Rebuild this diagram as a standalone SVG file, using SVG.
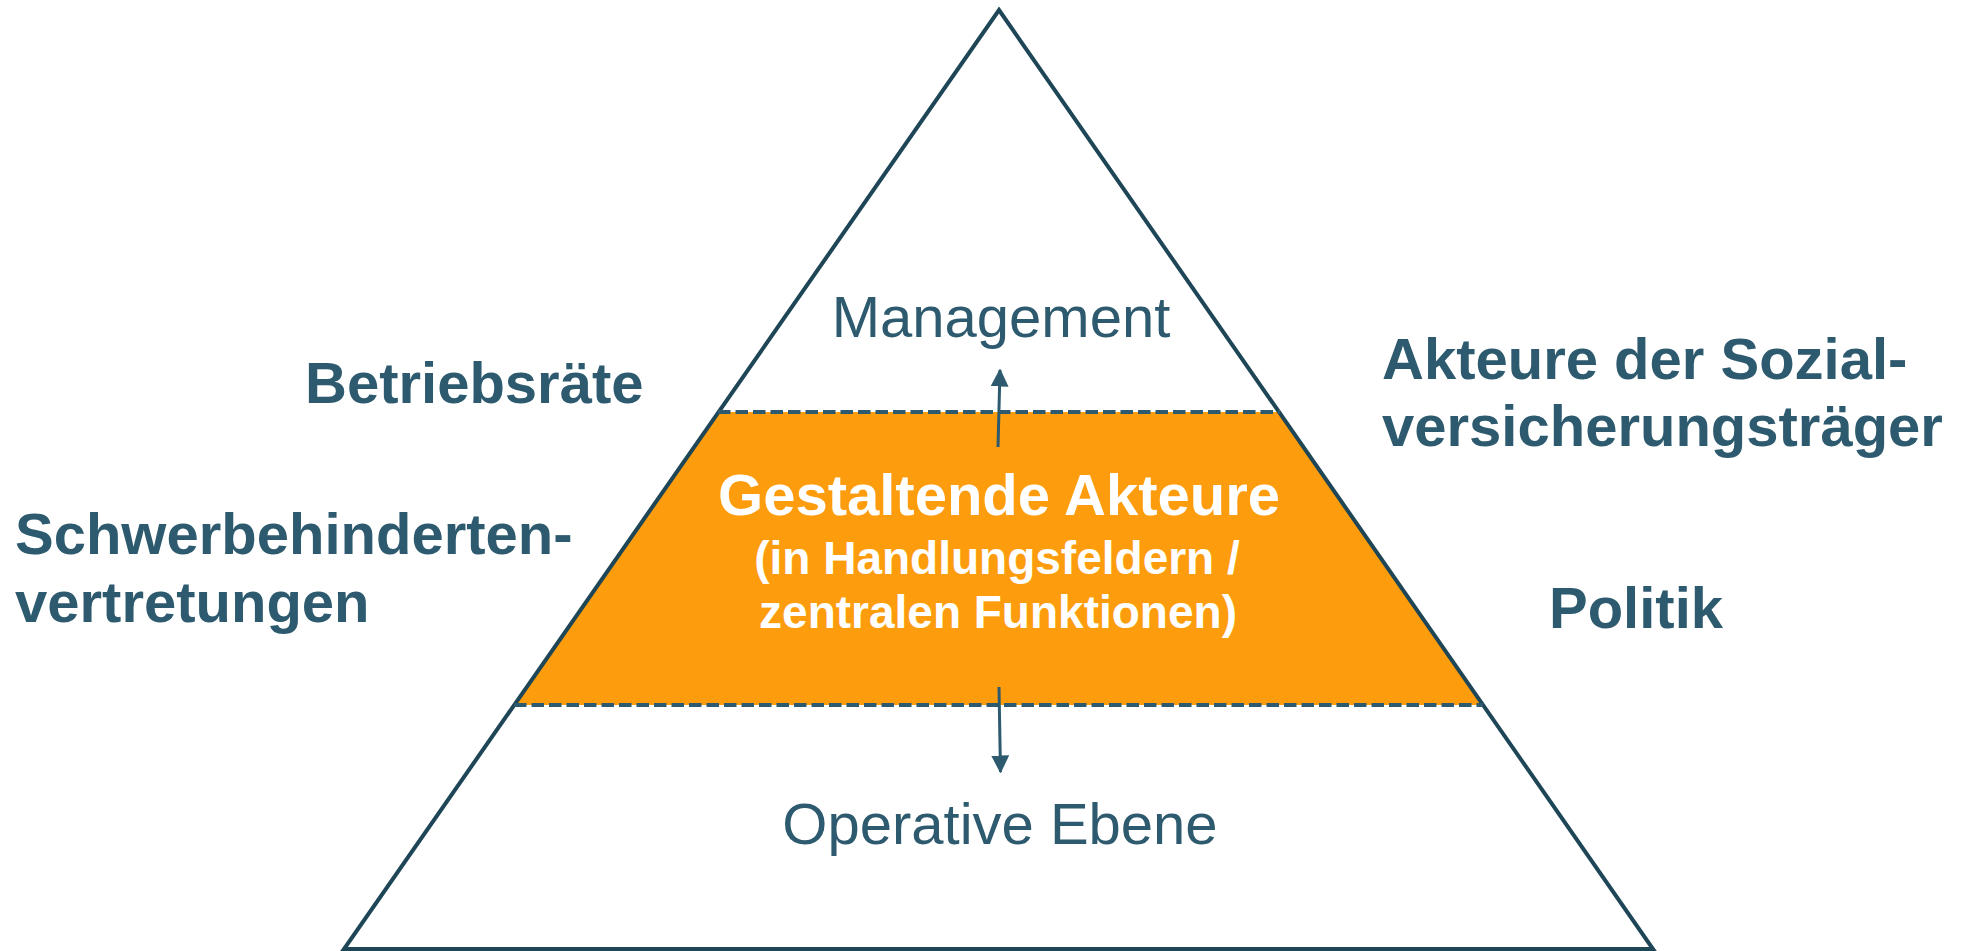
<svg xmlns="http://www.w3.org/2000/svg" width="1970" height="951" viewBox="0 0 1970 951">
  <style>
    .lbl { font-family: "Liberation Sans", Arial, sans-serif; font-weight: bold; font-size: 58px; fill: #2D5A6E; }
    .lvl { font-family: "Liberation Sans", Arial, sans-serif; font-size: 58px; fill: #2D5A6E; text-anchor: middle; }
    .mid { font-family: "Liberation Sans", Arial, sans-serif; font-weight: bold; fill: #FFFFFF; text-anchor: middle; }
    .dash { stroke: #2D5A6E; stroke-width: 4; stroke-dasharray: 12.5 5; fill: none; }
    .arr { stroke: #2D5A6E; stroke-width: 3; fill: none; marker-end: url(#ah); }
  </style>
  <defs>
    <marker id="ah" markerWidth="6" markerHeight="6" refX="5.5" refY="3" orient="auto" markerUnits="strokeWidth">
      <path d="M0,0 L6,3 L0,6 Z" fill="#2D5A6E"/>
    </marker>
  </defs>
  <rect width="1970" height="951" fill="#FFFFFF"/>
  <g id="pyramid">
    <polygon points="718,412 1280,412 1483,705 514,705" fill="#FD9D0E"/>
    <polygon points="999,10 1653,949 344,949" fill="none" stroke="#1E4657" stroke-width="4" stroke-linejoin="miter"/>
    <line class="dash" x1="718" y1="412" x2="1280" y2="412"/>
    <line class="dash" x1="514" y1="705" x2="1483" y2="705"/>
  </g>
  <g id="connectors">
    <line class="arr" x1="998" y1="447" x2="1000" y2="370"/>
    <line class="arr" x1="999" y1="687" x2="1000.5" y2="772"/>
  </g>
  <g id="management"><text class="lvl" x="1001" y="337">Management</text></g>
  <g id="gestaltende">
    <text class="mid" x="999" y="515" font-size="58">Gestaltende Akteure</text>
    <text class="mid" x="997" y="574" font-size="46">(in Handlungsfeldern /</text>
    <text class="mid" x="998" y="628" font-size="46">zentralen Funktionen)</text>
  </g>
  <g id="operative"><text class="lvl" x="1000" y="844">Operative Ebene</text></g>
  <g id="betriebsraete"><text class="lbl" x="305" y="403">Betriebsräte</text></g>
  <g id="schwerbehinderten">
    <text class="lbl" x="15" y="554">Schwerbehinderten-</text>
    <text class="lbl" x="15" y="622">vertretungen</text>
  </g>
  <g id="sozialversicherung">
    <text class="lbl" x="1382" y="379">Akteure der Sozial-</text>
    <text class="lbl" x="1382" y="446">versicherungsträger</text>
  </g>
  <g id="politik"><text class="lbl" x="1549" y="628">Politik</text></g>
</svg>
